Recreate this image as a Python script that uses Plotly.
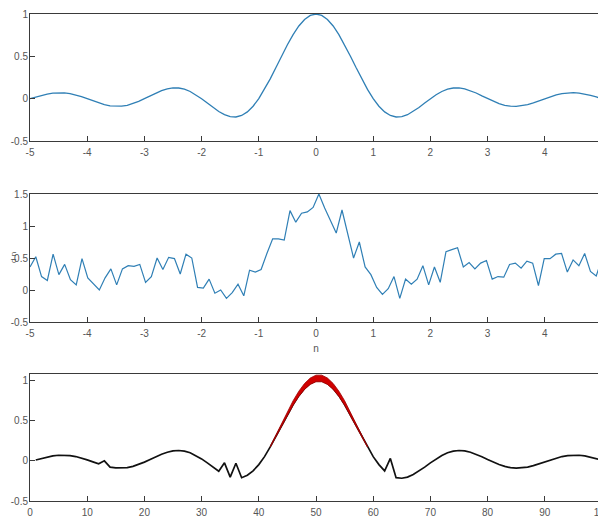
import numpy as np
import plotly.graph_objects as go

# ---- Panel 1: clean signal (x = -5..5 step 0.1) ----
top_y = [0, 0.0201, 0.0390, 0.0548, 0.0658, 0.0707, 0.0688, 0.0599, 0.0445, 0.0240,
         0, -0.0252, -0.0492, -0.0696, -0.0841, -0.0909, -0.0890, -0.0780, -0.0585, -0.0317,
         0, 0.0339, 0.0668, 0.0954, 0.1164, 0.1273, 0.1261, 0.1120, 0.0850, 0.0468,
         0, -0.0518, -0.1039, -0.1515, -0.1892, -0.2122, -0.2162, -0.1981, -0.1559, -0.0894,
         0, 0.1093, 0.2339, 0.3679, 0.5046, 0.6366, 0.7568, 0.8584, 0.9355, 0.9836,
         1,
         0.9836, 0.9355, 0.8584, 0.7568, 0.6366, 0.5046, 0.3679, 0.2339, 0.1093, 0,
         -0.0894, -0.1559, -0.1981, -0.2162, -0.2122, -0.1892, -0.1515, -0.1039, -0.0518, 0,
         0.0468, 0.0850, 0.1120, 0.1261, 0.1273, 0.1164, 0.0954, 0.0668, 0.0339, 0,
         -0.0317, -0.0585, -0.0780, -0.0890, -0.0909, -0.0841, -0.0696, -0.0492, -0.0252, 0,
         0.0240, 0.0445, 0.0599, 0.0688, 0.0707, 0.0658, 0.0548, 0.0390, 0.0201, 0]
top_x = np.linspace(-5, 5, len(top_y))

# ---- Panel 2: noisy observations d(n), 100 samples over -5..5 ----
mid_y = [0.36, 0.52, 0.21, 0.15, 0.56, 0.24, 0.40, 0.16, 0.08, 0.49,
         0.19, 0.10, 0.00, 0.19, 0.33, 0.08, 0.33, 0.38, 0.37, 0.40,
         0.12, 0.21, 0.50, 0.32, 0.51, 0.49, 0.25, 0.56, 0.50, 0.04,
         0.03, 0.17, -0.05, 0.00, -0.13, -0.04, 0.09, -0.09, 0.31, 0.28,
         0.32, 0.57, 0.80, 0.80, 0.78, 1.24, 1.06, 1.20, 1.22, 1.29,
         1.50, 1.28, 1.09, 0.89, 1.25, 0.88, 0.50, 0.75, 0.36, 0.24,
         0.04, -0.07, 0.02, 0.21, -0.13, 0.17, 0.09, 0.17, 0.38, 0.08,
         0.36, 0.12, 0.60, 0.63, 0.66, 0.36, 0.43, 0.33, 0.42, 0.46,
         0.17, 0.21, 0.20, 0.40, 0.42, 0.34, 0.45, 0.42, 0.07, 0.49,
         0.49, 0.56, 0.57, 0.28, 0.47, 0.38, 0.57, 0.29, 0.22, 0.49]
mid_x = np.linspace(-5, 5, len(mid_y))

# ---- Panel 3: estimate vs sample index (1..100) ----
bot_y = [0.010, 0.030, 0.047, 0.061, 0.069, 0.070, 0.065, 0.053, 0.035, 0.012,
         -0.013, -0.037, 0.000, -0.078, -0.088, -0.091, -0.085, -0.069, -0.046, -0.016,
         0.017, 0.051, 0.082, 0.106, 0.123, 0.128, 0.121, 0.100, 0.067, 0.024,
         -0.026, -0.079, -0.129, -0.025, -0.203, -0.030, -0.210, -0.180, -0.125, -0.047,
         0.052, 0.173, 0.303, 0.439, 0.573, 0.700, 0.811, 0.900, 0.963, 0.996,
         0.996, 0.963, 0.900, 0.811, 0.700, 0.573, 0.439, 0.303, 0.173, 0.052,
         -0.047, -0.125, 0.030, -0.210, -0.217, -0.203, -0.171, -0.129, -0.079, -0.026,
         0.024, 0.067, 0.100, 0.121, 0.128, 0.123, 0.106, 0.082, 0.051, 0.017,
         -0.016, -0.046, -0.069, -0.085, -0.091, -0.088, -0.078, -0.060, -0.037, -0.013,
         0.012, 0.035, 0.053, 0.065, 0.070, 0.069, 0.061, 0.047, 0.030, 0.010]
bot_x = np.arange(1, len(bot_y) + 1)

# red spread of estimates around the main lobe
band_x = list(range(42, 60))
band_hi = [0.180, 0.320, 0.468, 0.612, 0.748, 0.866, 0.962, 1.030, 1.066,
           1.066, 1.030, 0.962, 0.866, 0.748, 0.612, 0.468, 0.320, 0.180]
band_lo = [0.170, 0.298, 0.432, 0.565, 0.690, 0.800, 0.888, 0.950, 0.983,
           0.983, 0.950, 0.888, 0.800, 0.690, 0.565, 0.432, 0.298, 0.170]

# ---- tick labels ----
x_sym_ticks = [-5, -4, -3, -2, -1, 0, 1, 2, 3, 4, 5]
x_sym_text = ["-5", "-4", "-3", "-2", "-1", "0", "1", "2", "3", "4", "5"]
y_top_ticks = [-0.5, 0, 0.5, 1]
y_top_text = ["-0.5", "0", "0.5", "1"]
y_mid_ticks = [-0.5, 0, 0.5, 1, 1.5]
y_mid_text = ["-0.5", "0", "0.5", "1", "1.5"]
x_idx_ticks = [0, 10, 20, 30, 40, 50, 60, 70, 80, 90, 100]
x_idx_text = ["0", "10", "20", "30", "40", "50", "60", "70", "80", "90", "100"]

# the page body adds an 8px offset; figure coordinates are page coordinates minus 8
OFF = 8
W, H = 606 - OFF, 519 - OFF
ml, mr, mt, mb = 30 - OFF, 4, 14 - OFF, 18
ph = H - mt - mb
pw = W - ml - mr

def dom(top_page, bot_page):
    top_px, bot_px = top_page - OFF, bot_page - OFF
    return [(H - mb - bot_px) / ph, (H - mb - top_px) / ph]

fig = go.Figure()
blue = "#2f7fb5"
fig.add_trace(go.Scatter(x=top_x, y=top_y, mode="lines", line=dict(color=blue, width=1.3),
                         xaxis="x", yaxis="y", showlegend=False))
fig.add_trace(go.Scatter(x=mid_x, y=mid_y, mode="lines", line=dict(color=blue, width=1.2),
                         xaxis="x2", yaxis="y2", showlegend=False))
fig.add_trace(go.Scatter(x=bot_x, y=bot_y, mode="lines", line=dict(color="#111111", width=1.7),
                         xaxis="x3", yaxis="y3", showlegend=False))
fig.add_trace(go.Scatter(x=band_x + band_x[::-1], y=band_hi + band_lo[::-1], mode="lines",
                         fill="toself", fillcolor="#d00000", line=dict(color="#9a0000", width=0.8),
                         xaxis="x3", yaxis="y3", showlegend=False))

FONT = "Liberation Sans Narrow, Liberation Sans, Arial"
tickfont = dict(family=FONT, size=10, color="#555555")
axcommon = dict(showline=True, mirror=True, linecolor="#3a3a3a", linewidth=1, ticks="inside",
                ticklen=5, tickcolor="#3a3a3a", showgrid=False, zeroline=False,
                tickfont=tickfont, automargin=False, ticklabeloverflow="allow")
xcommon = dict(ticklabelstandoff=2, **axcommon)
ycommon = dict(ticklabelstandoff=-1, **axcommon)

fig.update_layout(
    template="none",
    width=W, height=H, margin=dict(l=ml, r=mr, t=mt, b=mb),
    paper_bgcolor="white", plot_bgcolor="white",
    xaxis=dict(domain=[0, 1], anchor="y", range=[-5, 5], tickvals=x_sym_ticks, ticktext=x_sym_text, **xcommon),
    yaxis=dict(domain=dom(14, 141), anchor="x", range=[-0.5, 1], tickvals=y_top_ticks, ticktext=y_top_text, **ycommon),
    xaxis2=dict(domain=[0, 1], anchor="y2", range=[-5, 5], tickvals=x_sym_ticks, ticktext=x_sym_text,
                title=dict(text="n", font=dict(family=FONT, size=10, color="#555555"), standoff=6),
                **xcommon),
    yaxis2=dict(domain=dom(194, 322), anchor="x2", range=[-0.5, 1.5], tickvals=y_mid_ticks, ticktext=y_mid_text,
                **ycommon),
    xaxis3=dict(domain=[0, 1], anchor="y3", range=[0, 100], tickvals=x_idx_ticks, ticktext=x_idx_text, **xcommon),
    yaxis3=dict(domain=dom(374, 501), anchor="x3", range=[-0.5, 1.08], tickvals=y_top_ticks, ticktext=y_top_text, **ycommon),
    annotations=[dict(text="d n", xref="paper", yref="y2 domain", x=(5 - ml) / pw, y=0.5,
                      xanchor="center", yanchor="middle", textangle=-90, showarrow=False,
                      borderpad=0, font=dict(family=FONT, size=8, color="#555555"))],
)

fig.write_html("out.html")
